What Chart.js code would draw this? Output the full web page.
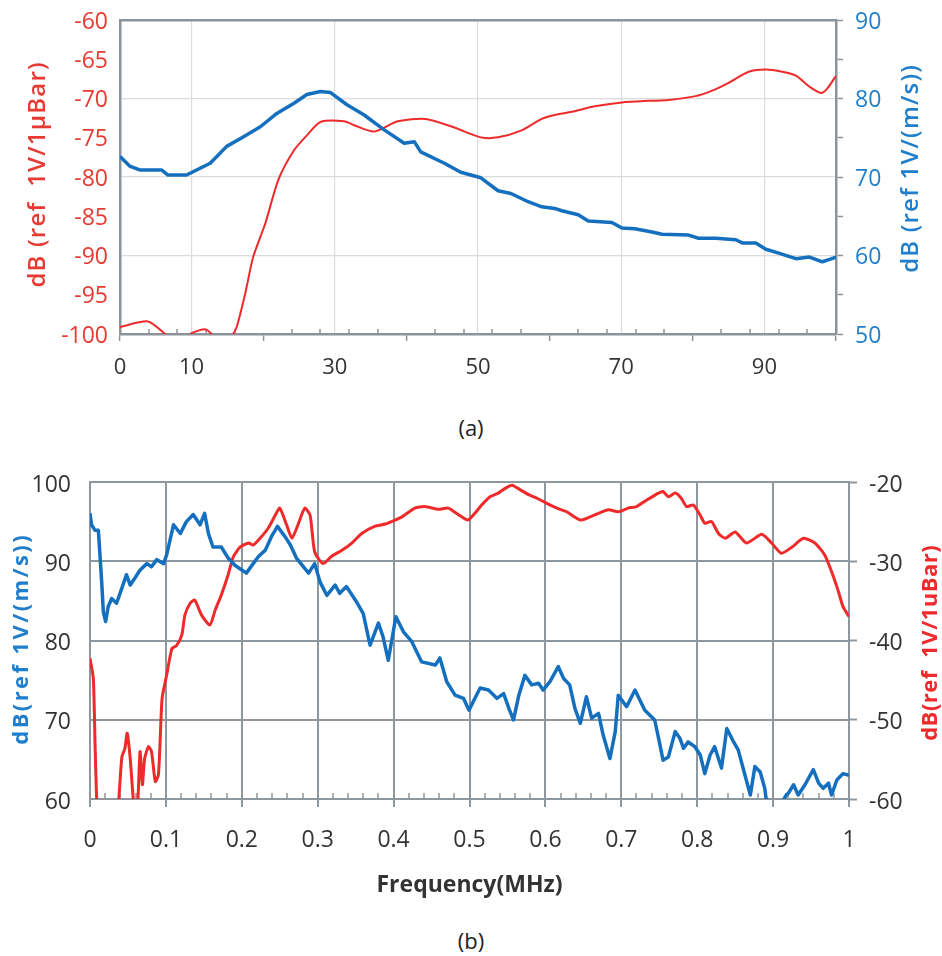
<!DOCTYPE html>
<html>
<head>
<meta charset="utf-8">
<script src="https://cdn.jsdelivr.net/npm/chart.js@4.4.1/dist/chart.umd.min.js"></script>
<style>
  html, body { margin: 0; padding: 0; background: #fff; }
  #wrap { position: relative; width: 942px; height: 956px; overflow: hidden; }
  #wrap canvas { position: absolute; left: 0; }
  .cap { position: absolute; left: 0; width: 942px; text-align: center;
         font: 22px "Open Sans", sans-serif; color: #222; line-height: 30px; }
</style>
</head>
<body>
<div id="wrap">
  <canvas id="chartA" width="942" height="400" style="top:0"></canvas>
  <div class="cap" style="top:412px">(a)</div>
  <canvas id="chartB" width="942" height="470" style="top:450px"></canvas>
  <div class="cap" style="top:925px">(b)</div>
</div>
<script>
// ---------- (a) pressure & velocity sensitivity, x in kHz ----------
const aRedX = [0, 3.9, 6.3, 7, 9.3, 10, 11.9, 12.8, 13.5, 15.3, 15.8, 16.3, 17.5, 18.6, 20.3, 22.1, 24.3, 26.1, 28.0, 31.3, 32.7, 35.5, 38.8, 42.7, 46.7, 50.4, 52.8, 56.0, 58.9, 60.7, 63.1, 66.3, 70.1, 73.8, 76.6, 80.4, 82.7, 85.0, 87.8, 90.2, 92.5, 94.4, 96.3, 97.9, 98.8, 100];
const aRed  = [-99.1, -98.4, -100, -100.6, -100.6, -99.9, -99.4, -100, -100.6, -100.6, -100, -99.1, -94.8, -90.2, -85.9, -80.4, -76.6, -74.7, -73.0, -72.9, -73.4, -74.2, -72.9, -72.6, -73.7, -74.95, -74.95, -74.1, -72.6, -72.1, -71.7, -71.0, -70.5, -70.3, -70.2, -69.7, -69.0, -68.0, -66.6, -66.3, -66.6, -67.1, -68.5, -69.3, -68.7, -67.1];

const aBlueX = [0, 1.35, 2.75, 5.8, 6.7, 9.3, 10.7, 12.6, 14.9, 17.2, 19.6, 21.9, 24.3, 26.1, 28.0, 29.4, 31.7, 34.1, 36.9, 39.7, 41.1, 42.0, 45.3, 47.6, 50.4, 52.8, 54.6, 57.0, 58.9, 60.7, 61.7, 64.0, 65.4, 68.7, 70.1, 71.9, 74.3, 75.7, 79.4, 80.8, 83.2, 86.0, 86.9, 88.8, 90.2, 92.0, 94.4, 96.3, 98.1, 99.1, 100];
const aBlue  = [72.6, 71.4, 70.9, 70.9, 70.25, 70.25, 70.9, 71.75, 73.9, 75.1, 76.4, 78.1, 79.4, 80.5, 80.9, 80.75, 79.2, 77.9, 76.0, 74.3, 74.5, 73.2, 71.75, 70.6, 69.9, 68.25, 67.9, 66.85, 66.2, 66.0, 65.7, 65.2, 64.4, 64.2, 63.5, 63.4, 63.0, 62.7, 62.6, 62.2, 62.2, 62.0, 61.6, 61.6, 60.8, 60.3, 59.6, 59.8, 59.2, 59.5, 59.8];

const aXLabels = [0, 10, 30, 50, 70, 90];
const aXMinor  = [4, 8, 12, 16, 24, 28, 32, 36, 44, 48, 52, 56, 64, 68, 72, 76, 84, 88, 92, 96];

// ---------- (b) velocity & pressure sensitivity, x in MHz ----------
const bBlueX = [0, 0.002, 0.0066, 0.011, 0.013, 0.0154, 0.0176, 0.0206, 0.024, 0.0286, 0.035, 0.042, 0.048, 0.053, 0.059, 0.066, 0.075, 0.081, 0.088, 0.097,
  0.101, 0.11, 0.119, 0.127, 0.136, 0.145, 0.151, 0.156, 0.162, 0.173, 0.182, 0.191, 0.2, 0.206, 0.215, 0.222, 0.231, 0.239, 0.247, 0.257,
  0.264, 0.272, 0.288, 0.296, 0.303, 0.312, 0.323, 0.329, 0.338, 0.351, 0.36, 0.369, 0.38, 0.386, 0.393, 0.403, 0.413, 0.424, 0.437, 0.455,
  0.461, 0.47, 0.481, 0.492, 0.4994, 0.505, 0.514, 0.525, 0.536, 0.545, 0.552, 0.558, 0.565, 0.573, 0.582, 0.591, 0.597, 0.606, 0.617, 0.624,
  0.632, 0.639, 0.646, 0.654, 0.661, 0.670, 0.676, 0.685, 0.692, 0.696, 0.707, 0.718, 0.731, 0.744, 0.749, 0.755, 0.762, 0.771, 0.777, 0.782,
  0.788, 0.797, 0.804, 0.810, 0.817, 0.823, 0.832, 0.839, 0.848, 0.854, 0.863, 0.870, 0.876, 0.883, 0.889, 0.891, 0.9, 0.91, 0.918, 0.92,
  0.927, 0.933, 0.942, 0.953, 0.96, 0.966, 0.973, 0.977, 0.984, 0.992, 1.0];
const bBlue = [96.05, 94.6, 93.9, 93.9, 91.0, 87.4, 83.6, 82.4, 84.3, 85.3, 84.7, 86.6, 88.3, 87.0, 87.85, 88.9, 89.7, 89.3, 90.2, 89.7,
  90.8, 94.6, 93.5, 95.0, 95.9, 94.6, 96.05, 93.5, 91.8, 91.8, 90.4, 89.5, 88.9, 88.5, 89.7, 90.6, 91.4, 93.1, 94.4, 93.1,
  92.05, 90.4, 88.5, 89.7, 87.4, 85.7, 87.0, 85.95, 86.8, 84.9, 83.4, 79.4, 82.2, 80.5, 77.5, 83.0, 81.1, 79.85, 77.3, 76.9,
  77.8, 74.8, 73.1, 72.7, 71.2, 72.3, 74.0, 73.75, 72.7, 73.3, 71.4, 69.97, 73.1, 75.6, 74.4, 74.6, 73.75, 74.8, 76.7, 75.2,
  74.4, 71.4, 69.55, 72.9, 70.2, 70.8, 68.1, 65.1, 68.5, 73.1, 71.65, 73.75, 71.2, 69.97, 67.7, 64.9, 65.3, 68.5, 67.7, 66.4,
  67.2, 66.6, 65.55, 63.2, 65.55, 66.6, 63.9, 68.9, 67.2, 66.2, 63.0, 60.5, 64.1, 63.4, 61.35, 59.9, 59.7, 59.3, 60.6, 60.7,
  61.8, 60.5, 61.8, 63.7, 62.0, 61.35, 62.0, 60.5, 62.4, 63.2, 63.0];

const bRedX = [0, 0.0044, 0.0066, 0.0088, 0.012, 0.035, 0.038, 0.042, 0.046, 0.049, 0.053, 0.057, 0.060, 0.063, 0.066, 0.069, 0.072, 0.077, 0.081, 0.086,
  0.09, 0.092, 0.095, 0.101, 0.108, 0.114, 0.121, 0.125, 0.132, 0.138, 0.147, 0.158, 0.165, 0.173, 0.182, 0.189, 0.198, 0.209, 0.215, 0.224,
  0.235, 0.244, 0.25, 0.259, 0.266, 0.274, 0.283, 0.29, 0.296, 0.307, 0.318, 0.332, 0.345, 0.358, 0.375, 0.389, 0.402, 0.411, 0.428, 0.441,
  0.459, 0.472, 0.485, 0.498, 0.507, 0.516, 0.527, 0.538, 0.547, 0.556, 0.567, 0.578, 0.589, 0.602, 0.615, 0.628, 0.646, 0.659, 0.67, 0.683,
  0.696, 0.709, 0.72, 0.733, 0.749, 0.755, 0.762, 0.771, 0.779, 0.786, 0.795, 0.804, 0.81, 0.819, 0.828, 0.837, 0.85, 0.865, 0.885, 0.898,
  0.911, 0.925, 0.94, 0.955, 0.968, 0.977, 0.986, 0.992, 1.0];
const bRed = [-42.25, -44.8, -52.8, -59.9, -63, -63, -60, -54.7, -53.6, -51.7, -54.9, -60, -62, -60.3, -54.0, -58.2, -54.9, -53.4, -54.0, -57.8,
  -57.0, -53.6, -47.3, -44.35, -41.0, -40.65, -39.3, -36.8, -35.3, -34.9, -36.8, -38.05, -36.15, -34.25, -31.7, -29.4, -28.2, -27.7, -27.95, -27.1,
  -25.8, -24.2, -23.3, -25.4, -27.1, -25.4, -23.3, -24.2, -28.8, -30.3, -29.4, -28.6, -27.7, -26.5, -25.6, -25.3, -24.8, -24.4, -23.3, -23.1,
  -23.45, -23.3, -24.1, -24.8, -23.95, -22.9, -21.85, -21.4, -20.8, -20.4, -21.0, -21.6, -22.05, -22.7, -23.3, -23.75, -24.8, -24.4, -23.95, -23.5,
  -23.75, -23.3, -23.1, -22.3, -21.4, -21.2, -21.85, -21.4, -22.05, -23.1, -22.9, -24.2, -25.2, -25.0, -26.5, -27.1, -26.3, -27.7, -26.6, -27.7,
  -29.0, -28.2, -27.1, -27.7, -29.2, -31.3, -33.8, -35.7, -37.0];

const bXMinor = [0.02, 0.04, 0.06, 0.08, 0.12, 0.14, 0.16, 0.18, 0.22, 0.24, 0.26, 0.28, 0.32, 0.34, 0.36, 0.38,
  0.42, 0.44, 0.46, 0.48, 0.52, 0.54, 0.56, 0.58, 0.62, 0.64, 0.66, 0.68, 0.72, 0.74, 0.76, 0.78,
  0.82, 0.84, 0.86, 0.88, 0.92, 0.94, 0.96, 0.98];

// ---------- shared styling ----------
const FONT = '"Open Sans", "Noto Sans", sans-serif';
const RED_LINE = '#ee2a2a';
const BLUE_LINE = '#1470bf';
const RED_TXT = '#e63a33';
const BLUE_TXT = '#1f7fcc';
const FRAME = '#8c949b';
const GRID_A = '#dcdcdc';
const GRID_B = '#8e979e';
const TICK_TXT = '#333333';

const pts = (xs, ys) => xs.map((x, i) => ({ x, y: ys[i] }));

// short tick marks pointing into the plot from the bottom axis
const innerTicks = (values, length, color, width) => ({
  id: 'innerTicks',
  beforeDatasetsDraw(chart) {
    const { ctx, chartArea } = chart;
    const sc = chart.scales.x;
    ctx.save();
    ctx.strokeStyle = color;
    ctx.lineWidth = width;
    ctx.beginPath();
    values.forEach(v => {
      const px = Math.round(sc.getPixelForValue(v));
      ctx.moveTo(px, chartArea.bottom);
      ctx.lineTo(px, chartArea.bottom - length);
    });
    ctx.stroke();
    ctx.restore();
  }
});

// vertical axis titles, reading bottom to top
const axisTitles = items => ({
  id: 'axisTitles',
  afterDraw(chart) {
    const { ctx } = chart;
    items.forEach(t => {
      ctx.save();
      ctx.translate(t.x, t.y);
      ctx.rotate(-Math.PI / 2);
      ctx.font = t.font;
      if ('letterSpacing' in ctx) ctx.letterSpacing = t.spacing + 'px';
      ctx.fillStyle = t.color;
      ctx.textAlign = 'center';
      ctx.textBaseline = 'middle';
      ctx.fillText(t.text, t.spacing / 2, 0);
      ctx.restore();
    });
  }
});

// fixed axis box sizes; the y axes do not reserve extra room for their end labels
const fixW = w => s => { s.width = w; s.paddingTop = 0; s.paddingBottom = 0; };
const fixH = h => s => { s.height = h; };

// ---------- chart (a) ----------
new Chart(document.getElementById('chartA'), {
  type: 'line',
  data: {
    datasets: [
      { data: pts(aBlueX, aBlue), yAxisID: 'yR', borderColor: BLUE_LINE, borderWidth: 3.5,
        pointRadius: 0, tension: 0, borderJoinStyle: 'round' },
      { data: pts(aRedX, aRed), yAxisID: 'yL', borderColor: RED_LINE, borderWidth: 2,
        pointRadius: 0, tension: 0.25, borderJoinStyle: 'round' }
    ]
  },
  plugins: [
    innerTicks(aXMinor, 5, FRAME, 1.5),
    axisTitles([
      { text: 'dB (ref  1V/1μBar)', x: 38, y: 175, color: RED_TXT, font: '600 24px ' + FONT, spacing: 1.2 },
      { text: 'dB (ref 1V/(m/s))', x: 911, y: 169, color: BLUE_TXT, font: '600 24px ' + FONT, spacing: 1.2 }
    ])
  ],
  options: {
    responsive: false, animation: false, events: [],
    layout: { padding: { top: 20, left: 0, right: 0, bottom: 0 } },
    plugins: { legend: { display: false }, tooltip: { enabled: false } },
    scales: {
      x: {
        type: 'linear', min: 0, max: 100, position: 'bottom',
        afterFit: fixH(66),
        ticks: {
          stepSize: 10, autoSkip: false, maxRotation: 0, padding: 14,
          color: TICK_TXT, font: { family: FONT, size: 22 },
          callback: v => aXLabels.includes(v) ? String(v) : ''
        },
        grid: {
          color: c => (c.tick && [10, 30, 50, 70, 90].includes(c.tick.value)) ? GRID_A : 'rgba(0,0,0,0)',
          lineWidth: 1.2,
          tickLength: 7,
          tickWidth: 1.5,
          tickColor: c => (c.tick && c.tick.value % 20 === 0) ? FRAME : 'rgba(0,0,0,0)'
        },
        border: { color: FRAME, width: 2.5 }
      },
      xTop: {
        type: 'linear', min: 0, max: 100, position: 'top', afterFit: fixH(0),
        ticks: { display: false }, grid: { drawOnChartArea: false, drawTicks: false },
        border: { color: FRAME, width: 2.5 }
      },
      yL: {
        type: 'linear', min: -100, max: -60, position: 'left',
        afterFit: fixW(120),
        ticks: { stepSize: 5, padding: 12, labelOffset: 2, color: RED_TXT, font: { family: FONT, size: 23 } },
        grid: {
          color: c => (c.tick && [-70, -80, -90].includes(c.tick.value)) ? GRID_A : 'rgba(0,0,0,0)',
          lineWidth: 1.2, drawTicks: false
        },
        border: { color: FRAME, width: 2.5 }
      },
      yR: {
        type: 'linear', min: 50, max: 90, position: 'right',
        afterFit: fixW(106),
        ticks: { stepSize: 5, padding: 12, labelOffset: 2, color: BLUE_TXT, font: { family: FONT, size: 23 },
                 callback: v => v % 10 === 0 ? String(v) : '' },
        grid: { drawOnChartArea: false, tickLength: 7, tickWidth: 1.5, tickColor: FRAME },
        border: { color: FRAME, width: 2.5 }
      }
    }
  }
});

// ---------- chart (b) ----------
new Chart(document.getElementById('chartB'), {
  type: 'line',
  data: {
    datasets: [
      { data: pts(bBlueX, bBlue), yAxisID: 'yL', borderColor: BLUE_LINE, borderWidth: 3.5,
        pointRadius: 0, tension: 0, borderJoinStyle: 'round' },
      { data: pts(bRedX, bRed), yAxisID: 'yR', borderColor: RED_LINE, borderWidth: 3,
        pointRadius: 0, tension: 0.2, borderJoinStyle: 'round' }
    ]
  },
  plugins: [
    innerTicks(bXMinor, 6, GRID_B, 1.5),
    axisTitles([
      { text: 'dB(ref 1V/(m/s))', x: 22, y: 190, color: BLUE_TXT, font: 'bold 22px ' + FONT, spacing: 2.4 },
      { text: 'dB(ref  1V/1uBar)', x: 931, y: 193, color: RED_LINE, font: 'bold 22px ' + FONT, spacing: 0.5 }
    ])
  ],
  options: {
    responsive: false, animation: false, events: [],
    layout: { padding: { top: 32, left: 0, right: 0, bottom: 0 } },
    plugins: { legend: { display: false }, tooltip: { enabled: false } },
    scales: {
      x: {
        type: 'linear', min: 0, max: 1, position: 'bottom',
        afterFit: fixH(121),
        ticks: {
          stepSize: 0.1, autoSkip: false, maxRotation: 0, padding: 20,
          color: TICK_TXT, font: { family: FONT, size: 23 },
          callback: v => String(+v.toFixed(1))
        },
        grid: { color: GRID_B, lineWidth: 2, tickLength: 8, tickColor: GRID_B },
        border: { color: GRID_B, width: 2 },
        title: { display: true, text: 'Frequency(MHz)', color: TICK_TXT,
                 font: { family: FONT, size: 23, weight: 'bold' }, padding: { top: 0, bottom: 21 } }
      },
      xTop: {
        type: 'linear', min: 0, max: 1, position: 'top', afterFit: fixH(0),
        ticks: { display: false }, grid: { drawOnChartArea: false, drawTicks: false },
        border: { color: GRID_B, width: 2 }
      },
      yL: {
        type: 'linear', min: 60, max: 100, position: 'left',
        afterFit: fixW(90),
        ticks: { stepSize: 10, padding: 19, labelOffset: 3, color: TICK_TXT, font: { family: FONT, size: 23 } },
        grid: { color: GRID_B, lineWidth: 2, drawTicks: false },
        border: { color: GRID_B, width: 2 }
      },
      yR: {
        type: 'linear', min: -60, max: -20, position: 'right',
        afterFit: fixW(93),
        ticks: { stepSize: 10, padding: 12, labelOffset: 3, color: TICK_TXT, font: { family: FONT, size: 23 } },
        grid: { drawOnChartArea: false, tickLength: 8, tickWidth: 2, tickColor: GRID_B },
        border: { color: GRID_B, width: 2 }
      }
    }
  }
});
</script>
</body>
</html>
